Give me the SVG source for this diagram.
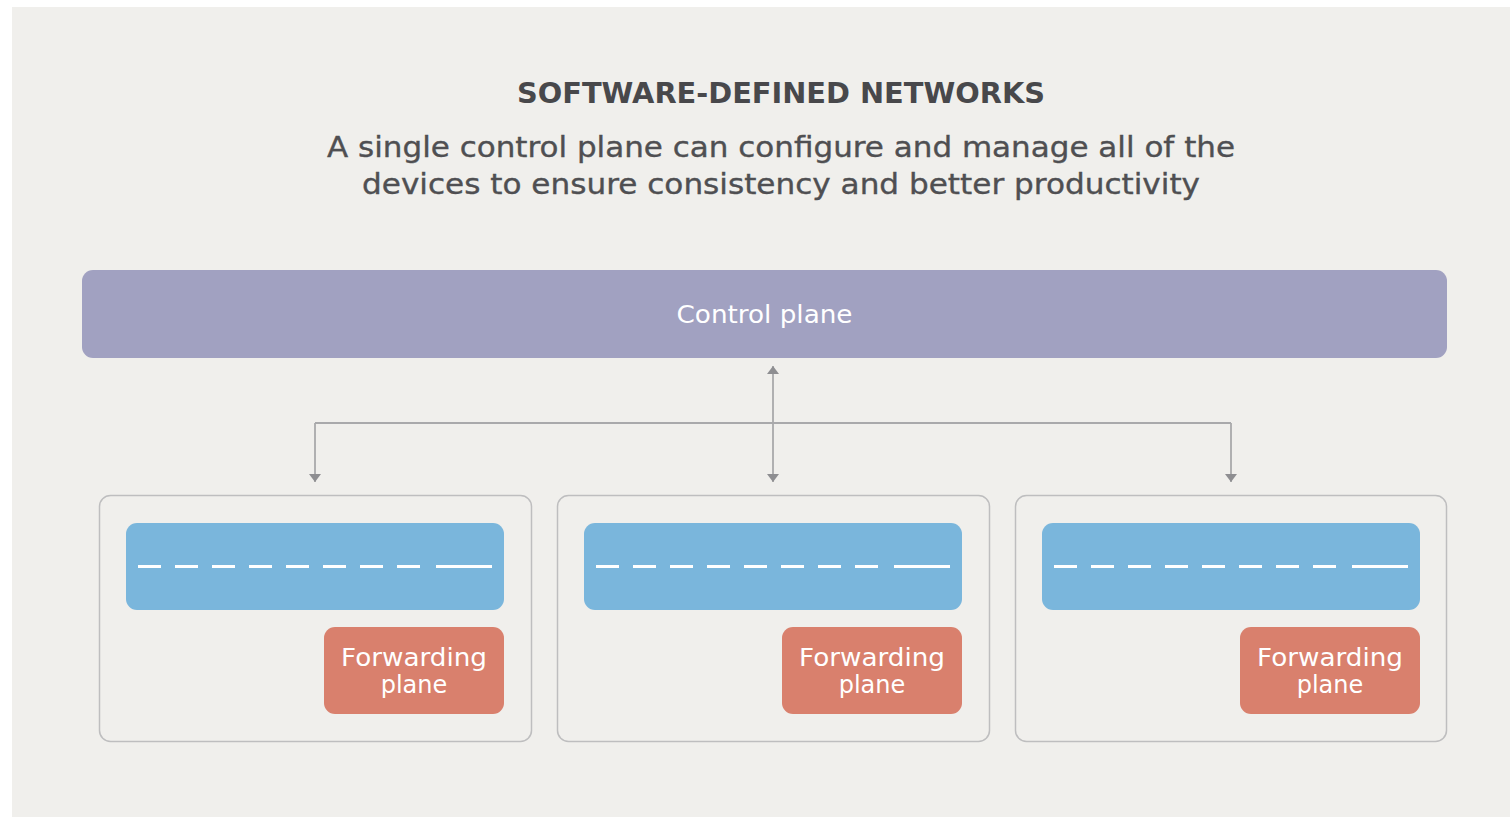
<svg xmlns="http://www.w3.org/2000/svg" width="1510" height="817" viewBox="0 0 1510 817">
  <style>
    .title { font-family: "DejaVu Sans", "Liberation Sans", sans-serif; font-weight: 700; font-size: 28px; fill: #48484b; }
    .sub { font-family: "DejaVu Sans", "Liberation Sans", sans-serif; font-size: 27.5px; fill: #4f4f52; stroke: #4f4f52; stroke-width: 0.35; }
    .lbl { font-family: "DejaVu Sans", "Liberation Sans", sans-serif; font-size: 24px; fill: #ffffff; }
    .device { fill: #f0efec; stroke: #bebebf; stroke-width: 1.5; }
    .table { fill: #7ab6dc; }
    .fwd { fill: #d9806d; }
    .dash { stroke: #ffffff; stroke-width: 3.2; fill: none; }
    .link { stroke: #a9a9ab; stroke-width: 1.8; fill: none; }
  </style>
  <defs>
    <!-- small filled triangle, base across the line -->
    <marker id="head" viewBox="0 0 8 12" refX="8" refY="6" markerWidth="8" markerHeight="12" markerUnits="userSpaceOnUse" orient="auto-start-reverse">
      <path d="M0,0 L8,6 L0,12 Z" fill="#8e8e91"/>
    </marker>
  </defs>

  <!-- page background -->
  <rect x="0" y="0" width="1510" height="817" fill="#ffffff"/>
  <rect x="12" y="7" width="1498" height="810" fill="#f0efec"/>

  <!-- heading -->
  <g id="heading">
    <text class="title" x="781" y="103" text-anchor="middle" textLength="528" lengthAdjust="spacingAndGlyphs">SOFTWARE-DEFINED NETWORKS</text>
    <text class="sub" x="781" y="157" text-anchor="middle" textLength="908" lengthAdjust="spacingAndGlyphs">A single control plane can configure and manage all of the</text>
    <text class="sub" x="781" y="194" text-anchor="middle" textLength="838" lengthAdjust="spacingAndGlyphs">devices to ensure consistency and better productivity</text>
  </g>

  <!-- control plane -->
  <g id="control-plane">
    <rect x="82" y="270" width="1365" height="88" rx="11" fill="#a1a1c1"/>
    <text class="lbl" x="764.5" y="323" text-anchor="middle" textLength="176" lengthAdjust="spacingAndGlyphs">Control plane</text>
  </g>

  <!-- connectors -->
  <g id="connectors">
    <line class="link" x1="773" y1="366" x2="773" y2="482" marker-start="url(#head)" marker-end="url(#head)"/>
    <line class="link" x1="315" y1="423" x2="1231" y2="423"/>
    <path class="link" d="M315,423 V482" marker-end="url(#head)"/>
    <path class="link" d="M1231,423 V482" marker-end="url(#head)"/>
  </g>

  <!-- device 1 -->
  <g id="device-1">
    <rect class="device" x="99.5" y="495.5" width="432" height="246" rx="11"/>
    <rect class="table" x="126" y="523" width="378" height="87" rx="11"/>
    <path class="dash" d="M138,566.5 h23 m14,0 h23 m14,0 h23 m14,0 h23 m14,0 h23 m14,0 h23 m14,0 h23 m14,0 h23 m16,0 h56"/>
    <rect class="fwd" x="324" y="627" width="180" height="87" rx="11"/>
    <text class="lbl" x="414" y="666" text-anchor="middle" textLength="146" lengthAdjust="spacingAndGlyphs">Forwarding</text>
    <text class="lbl" x="414" y="693" text-anchor="middle">plane</text>
  </g>

  <!-- device 2 -->
  <g id="device-2">
    <rect class="device" x="557.5" y="495.5" width="432" height="246" rx="11"/>
    <rect class="table" x="584" y="523" width="378" height="87" rx="11"/>
    <path class="dash" d="M596,566.5 h23 m14,0 h23 m14,0 h23 m14,0 h23 m14,0 h23 m14,0 h23 m14,0 h23 m14,0 h23 m16,0 h56"/>
    <rect class="fwd" x="782" y="627" width="180" height="87" rx="11"/>
    <text class="lbl" x="872" y="666" text-anchor="middle" textLength="146" lengthAdjust="spacingAndGlyphs">Forwarding</text>
    <text class="lbl" x="872" y="693" text-anchor="middle">plane</text>
  </g>

  <!-- device 3 -->
  <g id="device-3">
    <rect class="device" x="1015.5" y="495.5" width="431" height="246" rx="11"/>
    <rect class="table" x="1042" y="523" width="378" height="87" rx="11"/>
    <path class="dash" d="M1054,566.5 h23 m14,0 h23 m14,0 h23 m14,0 h23 m14,0 h23 m14,0 h23 m14,0 h23 m14,0 h23 m16,0 h56"/>
    <rect class="fwd" x="1240" y="627" width="180" height="87" rx="11"/>
    <text class="lbl" x="1330" y="666" text-anchor="middle" textLength="146" lengthAdjust="spacingAndGlyphs">Forwarding</text>
    <text class="lbl" x="1330" y="693" text-anchor="middle">plane</text>
  </g>
</svg>
